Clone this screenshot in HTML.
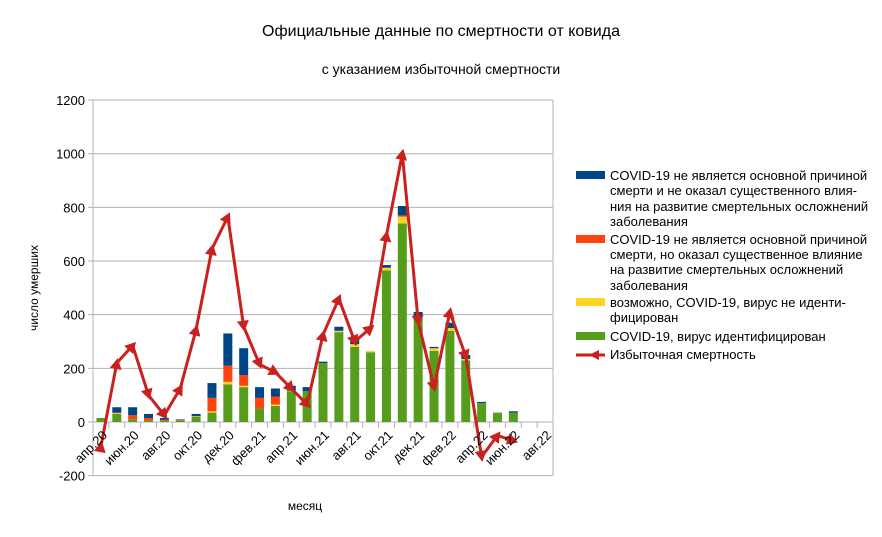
<!DOCTYPE html>
<html><head><meta charset="utf-8">
<style>
body{margin:0;background:#fff;}
svg text{font-family:"Liberation Sans",sans-serif;fill:#000;}
</style></head>
<body>
<svg id="c" width="882" height="532" xmlns="http://www.w3.org/2000/svg">
<rect width="882" height="532" fill="#fff"/>
<text x="441" y="36" font-size="16" text-anchor="middle">Официальные данные по смертности от ковида</text>
<text x="441" y="74" font-size="14" text-anchor="middle">с указанием избыточной смертности</text>
<text x="305" y="510" font-size="12" text-anchor="middle">месяц</text>
<text transform="translate(38,288) rotate(-90)" font-size="12" text-anchor="middle">число умерших</text>
<g id="grid"></g>
<g id="bars"></g>
<g id="line"></g>
<g id="lab"></g>
<g font-size="13">
<rect x="576" y="171" width="29" height="8" fill="#004586"/>
<text x="610" y="180">COVID-19 не является основной причиной</text>
<text x="610" y="195">смерти и не оказал существенного влия-</text>
<text x="610" y="211">ния на развитие смертельных осложнений</text>
<text x="610" y="226">заболевания</text>
<rect x="576" y="235" width="29" height="8" fill="#ff420e"/>
<text x="610" y="244">COVID-19 не является основной причиной</text>
<text x="610" y="259">смерти, но оказал существенное влияние</text>
<text x="610" y="274">на развитие смертельных осложнений</text>
<text x="610" y="290">заболевания</text>
<rect x="576" y="298" width="29" height="8" fill="#ffd320"/>
<text x="610" y="307">возможно, COVID-19, вирус не иденти-</text>
<text x="610" y="322">фицирован</text>
<rect x="576" y="332" width="29" height="8" fill="#579d1c"/>
<text x="610" y="341">COVID-19, вирус идентифицирован</text>
<line x1="576" y1="355" x2="605" y2="355" stroke="#c9211e" stroke-width="3"/>
<polygon points="589,355 599,350 599,360" fill="#c9211e"/>
<text x="610" y="359">Избыточная смертность</text>
</g>
</svg>
<script>
var NS="http://www.w3.org/2000/svg";
function el(p,t,a){var e=document.createElementNS(NS,t);for(var k in a)e.setAttribute(k,a[k]);p.appendChild(e);return e;}
var x0=93,x1=553,n=29,w=(x1-x0)/n;
function Y(v){return 422-v*0.2683;}
var g=document.getElementById('grid');
for(var v=-200;v<=1200;v+=200){
 el(g,'line',{x1:x0-5,x2:x1,y1:Y(v),y2:Y(v),stroke:'#b3b3b3','stroke-width':1});
 var t=el(g,'text',{x:x0-8,y:Y(v)+5,'font-size':13,'text-anchor':'end'});t.textContent=v;
}
el(g,'line',{x1:x0,x2:x0,y1:Y(1200),y2:Y(-200),stroke:'#b3b3b3'});
el(g,'line',{x1:x1,x2:x1,y1:Y(1200),y2:Y(-200),stroke:'#b3b3b3'});
for(var i=0;i<=n;i++)el(g,'line',{x1:x0+i*w,x2:x0+i*w,y1:422,y2:428,stroke:'#b3b3b3'});
var d=[[15,15,15,15],[30,33,35,55],[10,10,25,55],[5,5,15,30],[5,5,8,15],[5,5,8,10],[20,22,22,30],[35,40,90,145],[140,150,210,330],[130,135,175,275],[50,50,90,130],[60,65,95,125],[115,117,117,135],[115,115,115,130],[220,220,220,225],[335,340,340,355],[280,290,290,310],[260,265,265,265],[565,575,575,585],[740,765,770,805],[385,390,390,410],[265,275,275,280],[340,350,350,370],[230,235,235,250],[70,70,70,75],[35,35,35,35],[35,35,35,40],[0,0,0,0],[0,0,0,0]];
var cols=['#579d1c','#ffd320','#ff420e','#004586'];
var b=document.getElementById('bars');
d.forEach(function(r,i){var c=x0+(i+0.5)*w,prev=0;
 r.forEach(function(v,j){if(v>prev)el(b,'rect',{x:c-4.5,width:9,y:Y(v),height:(v-prev)*0.2683,fill:cols[j]});prev=Math.max(prev,v);});});
var L=[-90,220,285,100,25,125,345,645,765,355,215,185,125,65,325,460,300,350,695,1000,375,130,410,245,-130,-50,-70];
var pts=L.map(function(v,i){return [x0+(i+0.5)*w,Y(v)];});
var lg=document.getElementById('line');
el(lg,'polyline',{points:pts.map(function(p){return p.join(',')}).join(' '),fill:'none',stroke:'#c9211e','stroke-width':3,'stroke-linejoin':'round'});
pts.forEach(function(p,i){var q=pts[i>0?i-1:1];var a=Math.atan2(p[1]-q[1],p[0]-q[0])*180/Math.PI;if(i==0)a+=180;
 el(lg,'polygon',{points:'5,0 -6,-6 -6,6',fill:'#c9211e',transform:'translate('+p[0]+','+p[1]+') rotate('+a+')'});});
var names=['апр.20','июн.20','авг.20','окт.20','дек.20','фев.21','апр.21','июн.21','авг.21','окт.21','дек.21','фев.22','апр.22','июн.22','авг.22'];
var lb=document.getElementById('lab');
names.forEach(function(s,k){var c=x0+(2*k+0.5)*w+7;var t=el(lb,'text',{'font-size':13,'text-anchor':'end',transform:'translate('+c+',436) rotate(-45)'});t.textContent=s;});
</script>
</body></html>
